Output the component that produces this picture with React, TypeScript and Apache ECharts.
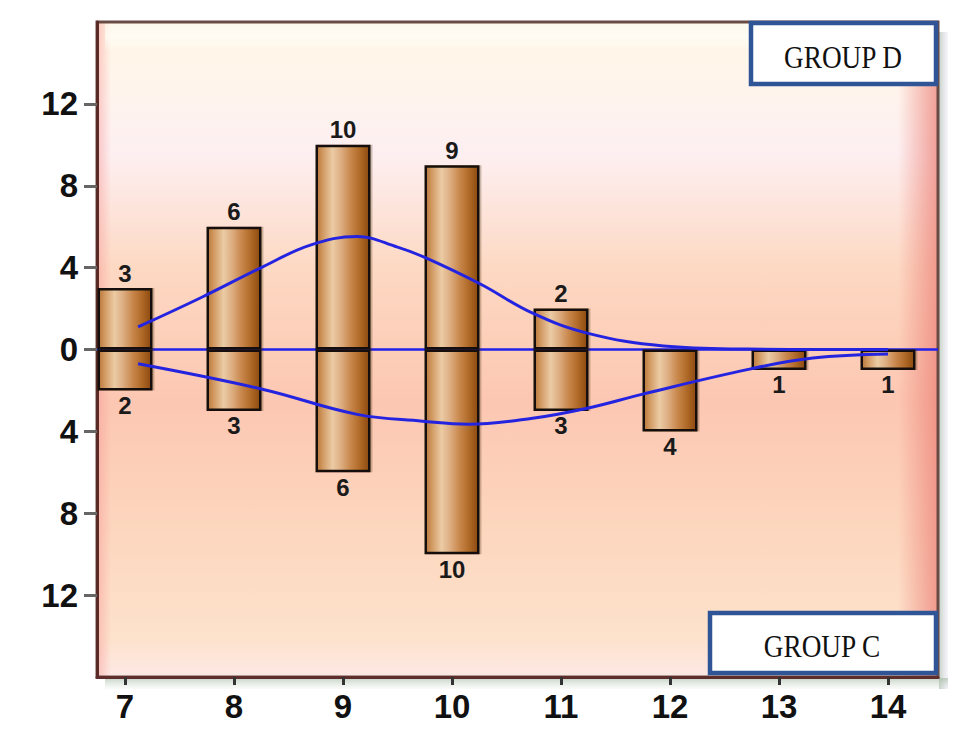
import React, { useEffect, useRef } from "react";
import * as echarts from "echarts";

const categories = [7, 8, 9, 10, 11, 12, 13, 14];
const groupDValues = [3, 6, 10, 9, 2, 0, 0, 0];
const groupCValues = [2, 3, 6, 10, 3, 4, 1, 1];
const yTickLabels = [-12, -8, -4, 0, 4, 8, 12];

const upperCurveX = [7.12, 7.7, 8.25, 8.7, 9.13, 9.5, 9.75, 10.26, 10.73, 11.24, 11.94, 12.71, 13.4, 14.0];
const upperCurveY = [1.1, 2.54, 4.0, 5.1, 5.52, 5.0, 4.5, 3.2, 1.8, 0.8, 0.17, 0.02, 0.0, 0.0];
const lowerCurveX = [7.12, 8.26, 9.13, 9.73, 10.15, 10.74, 11.24, 11.75, 12.73, 13.31, 14.0];
const lowerCurveY = [-0.7, -1.94, -3.17, -3.5, -3.65, -3.36, -2.87, -2.18, -0.96, -0.42, -0.22];

const barGradient = () =>
  new echarts.graphic.LinearGradient(0, 0, 1, 0, [
    { offset: 0, color: "#b8773c" },
    { offset: 0.1, color: "#cf955c" },
    { offset: 0.3, color: "#ebcba4" },
    { offset: 0.45, color: "#deb085" },
    { offset: 0.65, color: "#c8864a" },
    { offset: 0.82, color: "#b06a28" },
    { offset: 1, color: "#8c4a10" },
  ]);

export default function App() {
  const ref = useRef<HTMLDivElement>(null);
  useEffect(() => {
    document.body.style.margin = "0";
    if (!ref.current) return;
    const chart = echarts.init(ref.current, null, { renderer: "svg" });
    const L = 97, T = 22, W = 841, H = 655;
    const font = '"Liberation Sans", Arial, sans-serif';
    const barItemStyle = {
      color: barGradient(),
      borderColor: "#141008",
      borderWidth: 2.5,
      shadowColor: "rgba(60,30,10,0.25)",
      shadowOffsetX: 2,
      shadowBlur: 1,
    };
    const option: any = {
      animation: false,
      grid: { left: L, top: T, width: W, height: H, show: false },
      xAxis: {
        type: "value",
        min: 6.7431,
        max: 14.4587,
        splitLine: { show: false },
        axisLine: { show: true, onZero: false, lineStyle: { color: "#5e2e2c", width: 3 } },
        axisTick: {
          show: true,
          length: 8,
          customValues: categories,
          lineStyle: { color: "#333", width: 3 },
        },
        axisLabel: {
          customValues: categories,
          fontSize: 33,
          fontWeight: "bold",
          fontFamily: font,
          color: "#111",
          margin: 13,
        },
      },
      yAxis: {
        type: "value",
        min: -16,
        max: 16,
        interval: 4,
        splitLine: { show: false },
        axisLine: { show: true, onZero: false, lineStyle: { color: "#5a2a26", width: 3 } },
        axisTick: {
          show: true,
          length: 13,
          customValues: yTickLabels,
          lineStyle: { color: "#666", width: 3 },
        },
        axisLabel: {
          customValues: yTickLabels,
          fontSize: 33,
          fontWeight: "bold",
          fontFamily: font,
          color: "#111",
          margin: 19,
          formatter: (v: number) => (Math.abs(v) >= 16 ? "" : String(Math.abs(v))),
        },
      },
      graphic: [
        {
          type: "rect",
          z: -10,
          shape: { x: L, y: T, width: W, height: H },
          style: {
            fill: new echarts.graphic.LinearGradient(0, 0, 0, 1, [
              { offset: 0, color: "#fff4e2" },
              { offset: 0.06, color: "#fff6ea" },
              { offset: 0.2, color: "#fdeff1" },
              { offset: 0.38, color: "#fdd8c2" },
              { offset: 0.58, color: "#fcc7b2" },
              { offset: 0.8, color: "#fdd8c0" },
              { offset: 0.94, color: "#fde2cc" },
              { offset: 1, color: "#fde8e4" },
            ]),
          },
          silent: true,
        },
        {
          type: "rect",
          z: -9,
          shape: { x: L, y: T, width: 14, height: H },
          style: {
            fill: new echarts.graphic.LinearGradient(0, 0, 1, 0, [
              { offset: 0, color: "rgba(246,150,150,0.5)" },
              { offset: 1, color: "rgba(246,150,150,0)" },
            ]),
          },
          silent: true,
        },
        {
          type: "rect",
          z: -9,
          shape: { x: L + W - 40, y: T, width: 40, height: H },
          style: {
            fill: new echarts.graphic.LinearGradient(0, 0, 1, 0, [
              { offset: 0, color: "rgba(236,130,120,0)" },
              { offset: 1, color: "rgba(236,130,120,0.75)" },
            ]),
          },
          silent: true,
        },
        {
          type: "rect",
          z: -9,
          shape: { x: L + 8, y: T, width: W - 50, height: 30 },
          style: {
            fill: new echarts.graphic.LinearGradient(0, 0, 0, 1, [
              { offset: 0, color: "rgba(255,255,250,0.4)" },
              { offset: 0.5, color: "rgba(255,255,250,0.7)" },
              { offset: 1, color: "rgba(255,255,250,0)" },
            ]),
          },
          silent: true,
        },
        {
          type: "rect",
          z: -11,
          shape: { x: L + W + 1, y: T + 10, width: 9, height: H + 2 },
          style: {
            fill: new echarts.graphic.LinearGradient(0, 0, 1, 0, [
              { offset: 0, color: "rgba(150,175,150,0.55)" },
              { offset: 1, color: "rgba(200,190,220,0.15)" },
            ]),
          },
          silent: true,
        },
        {
          type: "rect",
          z: -11,
          shape: { x: L + 8, y: T + H + 1, width: W + 2, height: 11 },
          style: {
            fill: new echarts.graphic.LinearGradient(0, 0, 0, 1, [
              { offset: 0, color: "rgba(150,175,150,0.55)" },
              { offset: 1, color: "rgba(200,215,200,0.1)" },
            ]),
          },
          silent: true,
        },
        {
          type: "rect",
          z: -1,
          shape: { x: L, y: T, width: W, height: H },
          style: { fill: "none", stroke: "#6a4a44", lineWidth: 3 },
          silent: true,
        },
        {
          type: "group",
          z: 100,
          children: [
            {
              type: "rect",
              shape: { x: 751, y: 23, width: 185, height: 61 },
              style: { fill: "#ffffff", stroke: "#2f5597", lineWidth: 4.5 },
            },
            {
              type: "text",
              x: 843,
              y: 57,
              scaleX: 0.88,
              style: {
                text: "GROUP D",
                font: '31px "Liberation Serif", "DejaVu Serif", serif',
                fill: "#111",
                align: "center",
                verticalAlign: "middle",
              },
            },
          ],
        },
        {
          type: "group",
          z: 100,
          children: [
            {
              type: "rect",
              shape: { x: 710, y: 613, width: 226, height: 60 },
              style: { fill: "#ffffff", stroke: "#2f5597", lineWidth: 4.5 },
            },
            {
              type: "text",
              x: 822,
              y: 646,
              scaleX: 0.88,
              style: {
                text: "GROUP C",
                font: '31px "Liberation Serif", "DejaVu Serif", serif',
                fill: "#111",
                align: "center",
                verticalAlign: "middle",
              },
            },
          ],
        },
      ],
      series: [
        {
          name: "GROUP D",
          type: "bar",
          z: 2,
          barWidth: 55,
          barGap: "-100%",
          data: categories.map((c, i) => [c, groupDValues[i]]),
          itemStyle: barItemStyle,
          label: {
            show: true,
            position: "top",
            distance: 3,
            fontSize: 24,
            fontWeight: "bold",
            fontFamily: font,
            color: "#1a1a1a",
            formatter: (p: any) => (p.value[1] ? String(p.value[1]) : ""),
          },
          markLine: {
            silent: true,
            z: 1,
            symbol: "none",
            label: { show: false },
            lineStyle: { color: "#2020e8", width: 2.5, type: "solid" },
            data: [{ yAxis: 0 }],
          },
        },
        {
          name: "GROUP C",
          type: "bar",
          z: 2,
          barWidth: 55,
          barGap: "-100%",
          data: categories.map((c, i) => [c, -groupCValues[i]]),
          itemStyle: barItemStyle,
          label: {
            show: true,
            position: "bottom",
            distance: 3,
            fontSize: 24,
            fontWeight: "bold",
            fontFamily: font,
            color: "#1a1a1a",
            formatter: (p: any) => (p.value[1] ? String(Math.abs(p.value[1])) : ""),
          },
        },
        {
          name: "upper",
          type: "line",
          z: 5,
          smooth: 0.4,
          showSymbol: false,
          symbol: "none",
          data: upperCurveX.map((x, i) => [x, upperCurveY[i]]),
          lineStyle: { color: "#2424e0", width: 3 },
        },
        {
          name: "lower",
          type: "line",
          z: 5,
          smooth: 0.4,
          showSymbol: false,
          symbol: "none",
          data: lowerCurveX.map((x, i) => [x, lowerCurveY[i]]),
          lineStyle: { color: "#2424e0", width: 3 },
        },
      ],
    };
    chart.setOption(option);
    return () => chart.dispose();
  }, []);
  return <div ref={ref} style={{ width: 966, height: 744 }} />;
}
